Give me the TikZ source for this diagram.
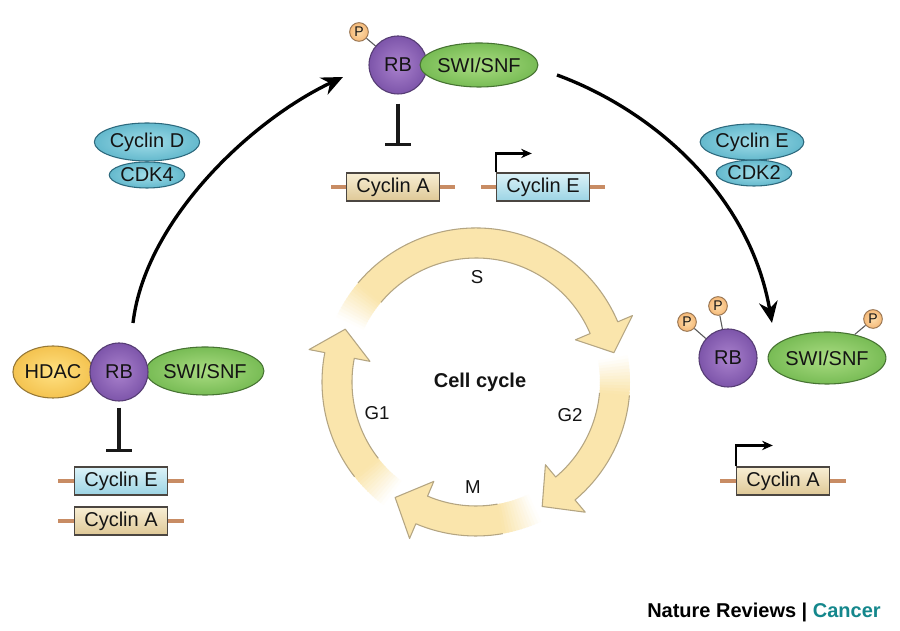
\documentclass[tikz,border=0pt]{standalone}
\usepackage{fontspec}
\setmainfont{Liberation Sans}
\usetikzlibrary{arrows.meta,shapes.geometric,calc}
\definecolor{cycfill}{RGB}{250,229,172}
\definecolor{cycline}{RGB}{180,165,130}
\definecolor{rbin}{RGB}{170,130,205}
\definecolor{rbout}{RGB}{125,85,170}
\definecolor{rbdark}{RGB}{85,60,115}
\definecolor{swiin}{RGB}{170,220,130}
\definecolor{swiout}{RGB}{120,188,85}
\definecolor{swidark}{RGB}{70,115,50}
\definecolor{hdin}{RGB}{255,225,130}
\definecolor{hdout}{RGB}{244,195,80}
\definecolor{hddark}{RGB}{150,120,55}
\definecolor{cyin}{RGB}{160,220,232}
\definecolor{cyout}{RGB}{100,185,205}
\definecolor{cydark}{RGB}{45,105,125}
\definecolor{pin}{RGB}{253,220,170}
\definecolor{pout}{RGB}{245,185,120}
\definecolor{pdark}{RGB}{150,115,80}
\definecolor{gAtop}{RGB}{248,238,212}
\definecolor{gAbot}{RGB}{222,200,150}
\definecolor{gEtop}{RGB}{220,242,248}
\definecolor{gEbot}{RGB}{155,212,228}
\definecolor{gdark}{RGB}{75,70,65}
\definecolor{flankc}{RGB}{200,140,100}
\definecolor{txt}{RGB}{20,20,20}
\definecolor{cancer}{RGB}{20,135,140}
\newcommand{\cellarrow}[3]{%
  \foreach \k in {0,...,11}{%
    \pgfmathsetmacro{\cyA}{#1-\k*1.25}%
    \pgfmathsetmacro{\cyB}{#1-(\k+1)*1.25-0.5}%
    \pgfmathsetmacro{\cyP}{(\k+0.5)*100/12}%
    \fill[cycfill!\cyP!white] (\cyA:124) arc[start angle=\cyA, end angle=\cyB, radius=124] -- (\cyB:154) arc[start angle=\cyB, end angle=\cyA, radius=154] -- cycle;
  }%
  \pgfmathsetmacro{\cyF}{#1-15}%
  \fill[cycfill] (\cyF:124) arc[start angle=\cyF, end angle=#2, radius=124] -- (#2:108) -- (#3:141) -- (#2:170) -- (#2:154) arc[start angle=#2, end angle=\cyF, radius=154] -- cycle;
  \draw[cycline, line width=0.8pt, line join=round] (\cyF:124) arc[start angle=\cyF, end angle=#2, radius=124] -- (#2:108) -- (#3:141) -- (#2:170) -- (#2:154) arc[start angle=#2, end angle=\cyF, radius=154];
}
\tikzset{
  lbl/.style={font=\fontsize{15}{17}\selectfont, text=txt, inner sep=0pt},
  rbnode/.style={circle, draw=rbdark, line width=0.8pt, inner color=rbin, outer color=rbout, minimum size=43.5pt, lbl},
  swinode/.style={ellipse, draw=swidark, line width=0.8pt, inner color=swiin, outer color=swiout, lbl},
  hdacnode/.style={ellipse, draw=hddark, line width=0.8pt, inner color=hdin, outer color=hdout, lbl},
  cdknode/.style={ellipse, draw=cydark, line width=0.8pt, inner color=cyin, outer color=cyout, lbl},
  pnode/.style={circle, draw=pdark, line width=0.7pt, inner color=pin, outer color=pout, minimum size=14pt, inner sep=0pt, font=\fontsize{10.5}{11}\selectfont, text=txt},
  plink/.style={draw=gray!70!black, line width=0.8pt},
  geneA/.style={rectangle, draw=gdark, line width=0.8pt, top color=gAtop, bottom color=gAbot, minimum width=70pt, minimum height=21pt, lbl},
  geneE/.style={rectangle, draw=gdark, line width=0.8pt, top color=gEtop, bottom color=gEbot, minimum width=70pt, minimum height=21pt, lbl},
  flank/.style={draw=flankc, line width=3pt},
  promo/.style={draw=black, line width=1.6pt, -{Stealth[length=8pt,width=7pt]}},
  inhib/.style={draw=black!90, line width=2.8pt, -{Bar[width=19pt, line width=2.8pt]}},
  bigarrow/.style={draw=black, line width=2.5pt, -{Stealth[length=16pt,width=14pt]}},
  phase/.style={font=\fontsize{14}{16}\selectfont, text=txt}
}
\begin{document}
\begin{tikzpicture}[x=0.75pt,y=0.75pt]
\useasboundingbox (0,0) rectangle (900,631);
\fill[white] (0,0) rectangle (900,631);

% ---------- cell cycle ----------
\begin{scope}[shift={(476,249)}]
  \cellarrow{233}{169}{158}
  \cellarrow{155}{23}{12}
  \cellarrow{10}{-50}{-62}
  \cellarrow{-65}{-113}{-125}
  \node[phase] (sS) at (1,105) {S};
  \node[phase] (sG1) at (-99,-31) {G1};
  \node[phase] (sG2) at (94,-33) {G2};
  \node[phase] (sM) at (-3,-105) {M};
  \node[font=\bfseries\fontsize{15}{17}\selectfont, text=txt] (cc) at (4,0) {Cell cycle};
\end{scope}

% ---------- top complex ----------
\node[rbnode] (tRB) at (398,566) {RB};
\node[swinode, minimum width=78pt, minimum height=33pt] (tSWI) at (479,566) {SWI/SNF};
\node[pnode] (tP) at (359,599) {P};
\draw[plink] (tP) -- (tRB);
\node[geneA] (tCycA) at (393,444) {Cyclin A};
\node[geneE] (tCycE) at (543,444) {Cyclin E};
\draw[flank] (tCycA.west) -- ++(-15,0);
\draw[flank] (tCycA.east) -- ++(15,0);
\draw[flank] (tCycE.west) -- ++(-15,0);
\draw[flank] (tCycE.east) -- ++(15,0);
\draw[inhib] ($(tRB.south)+(0,-9)$) -- ($(tRB.south |- tCycA.north)+(0,26)$);
\draw[promo] (tCycE.north west) -- ++(0,19) -- ++(36,0);

% ---------- left complex ----------
\node[hdacnode, minimum width=58.5pt, minimum height=39pt] (lHDAC) at (53,259) {HDAC};
\node[swinode, minimum width=85.5pt, minimum height=36pt] (lSWI) at (205,260) {SWI/SNF};
\node[rbnode] (lRB) at (119,259) {RB};
\node[geneE] (lCycE) at (121,150) {Cyclin E};
\node[geneA] (lCycA) at (121,110) {Cyclin A};
\draw[flank] (lCycE.west) -- ++(-16,0);
\draw[flank] (lCycE.east) -- ++(16,0);
\draw[flank] (lCycA.west) -- ++(-16,0);
\draw[flank] (lCycA.east) -- ++(16,0);
\draw[inhib] ($(lRB.south)+(0,-6)$) -- ($(lRB.south |- lCycE.north)+(0,14)$);

% ---------- right complex ----------
\node[rbnode] (rRB) at (728,273) {RB};
\node[swinode, minimum width=84pt, minimum height=39pt] (rSWI) at (827,273) {SWI/SNF};
\node[pnode] (rP1) at (687,309) {P};
\node[pnode] (rP2) at (718,325) {P};
\node[pnode] (rP3) at (873,312) {P};
\draw[plink] (rP1) -- (rRB);
\draw[plink] (rP2) -- (rRB);
\draw[plink] (rP3) -- (rSWI);
\node[geneA] (rCycA) at (783,150) {Cyclin A};
\draw[flank] (rCycA.west) -- ++(-16,0);
\draw[flank] (rCycA.east) -- ++(16,0);
\draw[promo] (rCycA.north west) -- ++(0,21) -- ++(37,0);

% ---------- kinases ----------
\node[cdknode, minimum width=51pt, minimum height=19.5pt] (cdk4) at (147,456) {CDK4};
\node[cdknode, minimum width=69pt, minimum height=28.5pt] (cycD) at (147,489) {Cyclin D};
\node[cdknode, minimum width=49.5pt, minimum height=19.5pt] (cdk2) at (754,458) {CDK2};
\node[cdknode, minimum width=67.5pt, minimum height=27pt] (cycE) at (752,489) {Cyclin E};

% ---------- big arrows ----------
\coordinate (L0) at (133,308);
\coordinate (L1) at (343,554);
\draw[bigarrow] (L0) .. controls (145,410) and (250,510) .. (L1);
\coordinate (R0) at (557,556);
\coordinate (R1) at (772,308);
\draw[bigarrow] (R0) .. controls (655,520) and (750,435) .. (R1);

% ---------- credit ----------
\node[font=\bfseries\fontsize{15}{17}\selectfont, text=black, inner sep=0pt] (credit) at (764,19) {Nature Reviews | \textcolor{cancer}{Cancer}};
\end{tikzpicture}
\end{document}
